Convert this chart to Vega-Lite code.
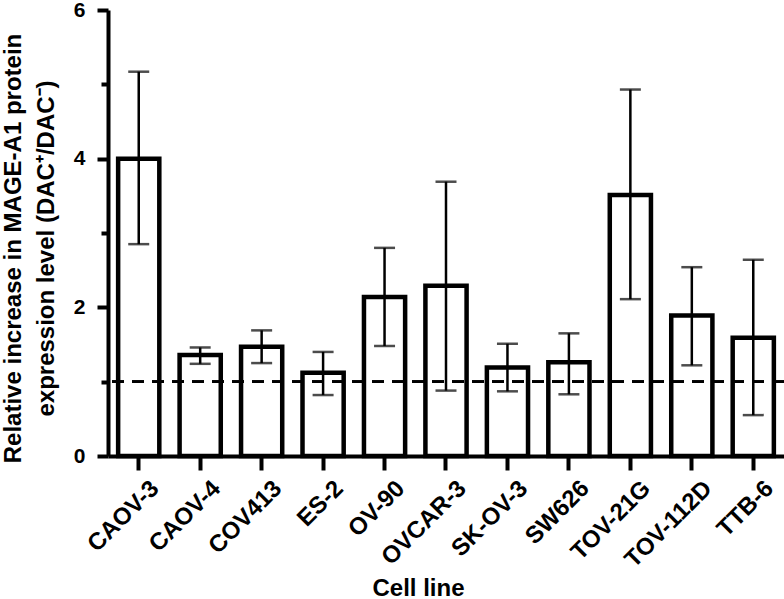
{
  "$schema": "https://vega.github.io/schema/vega-lite/v6.json",
  "autosize": "none",
  "padding": {"left": 108, "top": 10, "right": 0, "bottom": 143},
  "width": 676,
  "height": 446,
  "background": "white",
  "config": {
    "view": {"stroke": null},
    "font": "Liberation Sans",
    "axis": {
      "domainColor": "black", "domainWidth": 4, "tickColor": "black", "tickWidth": 4,
      "labelColor": "black", "titleColor": "black", "labelFont": "Liberation Sans", "titleFont": "Liberation Sans",
      "labelFontWeight": "bold", "titleFontWeight": "bold", "grid": false
    }
  },
  "data": {
    "values": [
      {"cell": "CAOV-3", "mean": 4.00, "lo": 2.85, "hi": 5.17},
      {"cell": "CAOV-4", "mean": 1.36, "lo": 1.24, "hi": 1.46},
      {"cell": "COV413", "mean": 1.47, "lo": 1.25, "hi": 1.69},
      {"cell": "ES-2", "mean": 1.12, "lo": 0.82, "hi": 1.40},
      {"cell": "OV-90", "mean": 2.14, "lo": 1.48, "hi": 2.80},
      {"cell": "OVCAR-3", "mean": 2.29, "lo": 0.88, "hi": 3.69},
      {"cell": "SK-OV-3", "mean": 1.19, "lo": 0.87, "hi": 1.51},
      {"cell": "SW626", "mean": 1.26, "lo": 0.83, "hi": 1.65},
      {"cell": "TOV-21G", "mean": 3.51, "lo": 2.11, "hi": 4.93},
      {"cell": "TOV-112D", "mean": 1.89, "lo": 1.22, "hi": 2.54},
      {"cell": "TTB-6", "mean": 1.59, "lo": 0.55, "hi": 2.64}
    ]
  },
  "layer": [
    {
      "mark": {"type": "bar", "fill": "white", "stroke": "black", "strokeWidth": 4.5},
      "encoding": {
        "x": {
          "field": "cell", "type": "nominal", "sort": null,
          "scale": {"paddingInner": 0.33, "paddingOuter": 0.165},
          "axis": {
            "title": "Cell line", "titleFontSize": 24, "titleX": 310, "titleY": 139, "titleBaseline": "alphabetic",
            "labelAngle": -45, "labelAlign": "right", "labelBaseline": "top",
            "labelFontSize": 24, "labelPadding": 6, "labelOffset": 8, "tickSize": 14
          }
        },
        "y": {
          "field": "mean", "type": "quantitative",
          "scale": {"domain": [0, 6], "nice": false},
          "axis": {
            "values": [0, 1, 2, 3, 4, 5, 6],
            "format": "d",
            "labelExpr": "datum.value % 2 == 0 ? datum.label : ''",
            "tickSize": {"condition": {"test": "datum.value % 2 == 0", "value": 11}, "value": 7},
            "labelFontSize": 21, "labelPadding": 12,
            "title": ["Relative increase in MAGE-A1 protein", "expression level (DAC⁺/DAC⁻)"],
            "titleFontSize": 24, "titleLineHeight": 33, "titlePadding": 15, "titleY": 238
          }
        }
      }
    },
    {
      "mark": {"type": "rule", "color": "black", "strokeWidth": 2, "strokeDash": [12, 8]},
      "encoding": {"y": {"datum": 1, "type": "quantitative"}}
    },
    {
      "mark": {"type": "rule", "color": "black", "strokeWidth": 2.5},
      "encoding": {
        "x": {"field": "cell", "type": "nominal", "sort": null},
        "y": {"field": "lo", "type": "quantitative"},
        "y2": {"field": "hi"}
      }
    },
    {
      "mark": {"type": "tick", "color": "black", "thickness": 2.5, "size": 21},
      "encoding": {
        "x": {"field": "cell", "type": "nominal", "sort": null},
        "y": {"field": "lo", "type": "quantitative"}
      }
    },
    {
      "mark": {"type": "tick", "color": "black", "thickness": 2.5, "size": 21},
      "encoding": {
        "x": {"field": "cell", "type": "nominal", "sort": null},
        "y": {"field": "hi", "type": "quantitative"}
      }
    }
  ]
}
